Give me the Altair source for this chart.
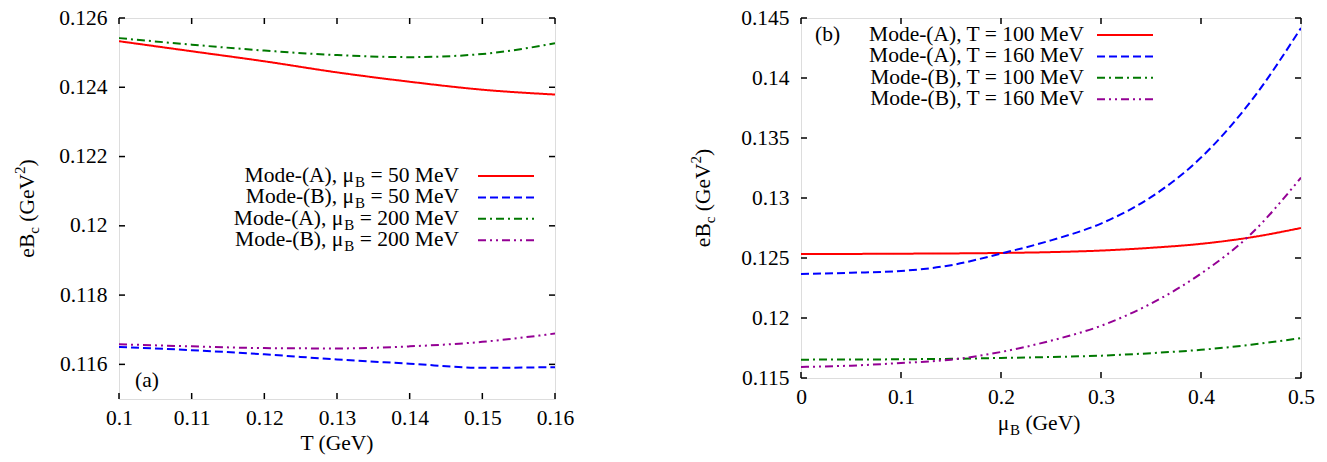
import altair as alt
import pandas as pd

# ---------------- data ----------------
T_GeV = [0.10, 0.11, 0.12, 0.13, 0.14, 0.15, 0.16]
left_A_mu50 = [0.12533, 0.12504, 0.12475, 0.12443, 0.12416, 0.12393, 0.12379]
left_B_mu50 = [0.11650, 0.11641, 0.11629, 0.11614, 0.11602, 0.11590, 0.11592]
left_A_mu200 = [0.12542, 0.12523, 0.12506, 0.12493, 0.12487, 0.12496, 0.12527]
left_B_mu200 = [0.11658, 0.11652, 0.11647, 0.11646, 0.11652, 0.11665, 0.11689]

muB_GeV = [0.0, 0.05, 0.10, 0.15, 0.20, 0.25, 0.30, 0.35, 0.40, 0.45, 0.50]
right_A_T100 = [0.12533, 0.12534, 0.12536, 0.12538, 0.12542, 0.12549, 0.12562, 0.12585, 0.12618, 0.12672, 0.12750]
right_A_T160 = [0.12367, 0.12377, 0.12392, 0.12440, 0.12537, 0.12647, 0.12787, 0.13007, 0.13337, 0.13807, 0.14417]
right_B_T100 = [0.11653, 0.11654, 0.11656, 0.11660, 0.11667, 0.11675, 0.11686, 0.11707, 0.11735, 0.11777, 0.11833]
right_B_T160 = [0.11592, 0.11603, 0.11625, 0.11653, 0.11717, 0.11811, 0.11935, 0.12120, 0.12370, 0.12700, 0.13170]

left_names = ["Mode-(A), μB = 50 MeV", "Mode-(B), μB = 50 MeV",
              "Mode-(A), μB = 200 MeV", "Mode-(B), μB = 200 MeV"]
left_label_head = ["Mode-(A), μ", "Mode-(B), μ", "Mode-(A), μ", "Mode-(B), μ"]
left_label_sub = ["B", "B", "B", "B"]
left_label_tail = [" = 50 MeV", " = 50 MeV", " = 200 MeV", " = 200 MeV"]

right_names = ["Mode-(A), T = 100 MeV", "Mode-(A), T = 160 MeV",
               "Mode-(B), T = 100 MeV", "Mode-(B), T = 160 MeV"]

left_x_ticks = [0.10, 0.11, 0.12, 0.13, 0.14, 0.15, 0.16]
left_y_ticks = [0.116, 0.118, 0.120, 0.122, 0.124, 0.126]
right_x_ticks = [0.0, 0.1, 0.2, 0.3, 0.4, 0.5]
right_y_ticks = [0.115, 0.120, 0.125, 0.130, 0.135, 0.140, 0.145]

# ---------------- style ----------------
FONT = "Liberation Serif"
FS = 21.5
SFS = 15
colors = ["#ff0000", "#0000ff", "#007800", "#940094"]
dashes = [[1, 0], [8, 4], [8, 4, 2, 4], [8, 4, 2, 4, 2, 4]]
LW = 2

W1, H1 = 436, 381
W2, H2 = 500, 360

ADV = {' ': 0.25, '=': 0.564, 'M': 0.889, 'e': 0.444, 'V': 0.722, 'B': 0.667,
       '(': 0.333, ')': 0.333, 'G': 0.722, 'c': 0.444, 'μ': 0.576, 'T': 0.611}


def tw(s, size=FS):
    return sum(ADV.get(ch, 0.5) for ch in s) * size


one = pd.DataFrame({"a": [0]})


def axis(vals, pad):
    return alt.Axis(values=vals, format="~g", title=None, ticks=False,
                    domain=False, grid=False, labelFont=FONT,
                    labelFontSize=FS, labelColor="black",
                    labelPadding=pad, labelFlush=False, labelOverlap=False)


def xenc(dom, vals):
    return alt.X("x:Q", scale=alt.Scale(domain=dom, nice=False, zero=False),
                 axis=axis(vals, 8))


def yenc(dom, vals):
    return alt.Y("y:Q", scale=alt.Scale(domain=dom, nice=False, zero=False),
                 axis=axis(vals, 12))


def text(s, x, y, size=FS, align="left", baseline="middle", angle=0, dx=0, dy=0):
    kw = dict(text=s, font=FONT, fontSize=size, align=align, baseline=baseline,
              color="black", dx=dx, dy=dy)
    if angle:
        kw["angle"] = angle
    return alt.Chart(one).mark_text(**kw).encode(x=alt.value(x), y=alt.value(y))


def ticks(xdom, ydom, xt, yt, W, H):
    tl = 6
    dx = pd.DataFrame({"x": xt})
    dy = pd.DataFrame({"y": yt})
    xs = xenc(xdom, xt)
    ys = yenc(ydom, yt)
    r = dict(color="black", strokeWidth=1.5)
    return [
        alt.Chart(dx).mark_rule(**r).encode(x=xs, y=alt.value(H), y2=alt.value(H - tl)),
        alt.Chart(dx).mark_rule(**r).encode(x=xs, y=alt.value(0), y2=alt.value(tl)),
        alt.Chart(dy).mark_rule(**r).encode(y=ys, x=alt.value(0), x2=alt.value(tl)),
        alt.Chart(dy).mark_rule(**r).encode(y=ys, x=alt.value(W), x2=alt.value(W - tl)),
    ]


def ytitle(xc, yc):
    # eB_c (GeV^2) rotated, pieces laid along the text direction
    parts = [("eB", FS, 0), ("c", SFS, 6), (" (GeV", FS, 0), ("2", SFS, -8), (")", FS, 0)]
    total = sum(tw(p, s) for p, s, _ in parts)
    start_y = yc + total / 2
    layers = []
    off = 0
    for p, s, d in parts:
        lead = tw(p[: len(p) - len(p.lstrip())], s)
        layers.append(text(p.strip(), xc, start_y, size=s, angle=270, dx=off + lead, dy=d))
        off += tw(p, s)
    return layers


def lines(df, xdom, ydom, xt, yt, names):
    return alt.Chart(df).mark_line(strokeWidth=LW, clip=True, interpolate="monotone").encode(
        x=xenc(xdom, xt), y=yenc(ydom, yt),
        color=alt.Color("s:N", scale=alt.Scale(domain=names, range=colors), legend=None),
        strokeDash=alt.StrokeDash("s:N", scale=alt.Scale(domain=names, range=dashes), legend=None),
    )


def long_df(xs, series, names):
    rows = []
    for n, vals in zip(names, series):
        for xv, yv in zip(xs, vals):
            rows.append({"x": xv, "y": yv, "s": n})
    return pd.DataFrame(rows)


# ---------------- left panel ----------------
xdomL, ydomL = [0.10, 0.16], [0.115, 0.126]
dfL = long_df(T_GeV, [left_A_mu50, left_B_mu50, left_A_mu200, left_B_mu200], left_names)
layersL = [lines(dfL, xdomL, ydomL, left_x_ticks, left_y_ticks, left_names)]
layersL += ticks(xdomL, ydomL, left_x_ticks, left_y_ticks, W1, H1)

legL_rows = [158, 179.4, 200.8, 222.2]
RL = 340
for i in range(4):
    y = legL_rows[i]
    w3 = tw(left_label_tail[i])
    w2 = tw(left_label_sub[i], SFS)
    layersL.append(text(left_label_tail[i].strip(), RL, y, align="right"))
    layersL.append(text(left_label_sub[i], RL - w3, y + 6, size=SFS, align="right"))
    layersL.append(text(left_label_head[i], RL - w3 - w2 - 1, y, align="right"))
    layersL.append(alt.Chart(one).mark_rule(color=colors[i], strokeWidth=LW, strokeDash=dashes[i]).encode(
        x=alt.value(359), x2=alt.value(415), y=alt.value(y)))
layersL.append(text("(a)", 16, 363))
layersL += ytitle(-91, H1 / 2)
layersL.append(text("T (GeV)", W1 / 2, 426, align="center"))
# layout anchor (invisible): fixes the plot origin inside the page
layersL.append(alt.Chart(one).mark_rule(opacity=0, strokeWidth=0).encode(
    x=alt.value(-118), x2=alt.value(-117), y=alt.value(-17), y2=alt.value(-17)))

left = alt.layer(*layersL).properties(width=W1, height=H1)

# ---------------- right panel ----------------
xdomR, ydomR = [0.0, 0.5], [0.115, 0.145]
dfR = long_df(muB_GeV, [right_A_T100, right_A_T160, right_B_T100, right_B_T160], right_names)
layersR = [lines(dfR, xdomR, ydomR, right_x_ticks, right_y_ticks, right_names)]
layersR += ticks(xdomR, ydomR, right_x_ticks, right_y_ticks, W2, H2)

legR_rows = [17, 38.4, 59.8, 81.2]
RR = 283
for i in range(4):
    y = legR_rows[i]
    layersR.append(text(right_names[i], RR, y, align="right"))
    layersR.append(alt.Chart(one).mark_rule(color=colors[i], strokeWidth=LW, strokeDash=dashes[i]).encode(
        x=alt.value(296), x2=alt.value(352), y=alt.value(y)))
layersR.append(text("(b)", 14, 17))
layersR += ytitle(-97, H2 / 2)
# x title: mu_B (GeV)
xt_parts = [("μ", FS, 0), ("B", SFS, 6), (" (GeV)", FS, 0)]
xt_total = sum(tw(p, s) for p, s, _ in xt_parts)
xx = 238 - xt_total / 2
for p, s, d in xt_parts:
    lead = tw(p[: len(p) - len(p.lstrip())], s)
    layersR.append(text(p.strip(), xx + lead, 406 + d, size=s))
    xx += tw(p, s)

right = alt.layer(*layersR).properties(width=W2, height=H2)

chart = alt.hconcat(left, right, spacing=246, bounds="flush", padding=0).configure_view(
    stroke="black", strokeWidth=1.5
).configure(background="white")

chart.save("out.html", embed_options={"renderer": "svg", "actions": False})
